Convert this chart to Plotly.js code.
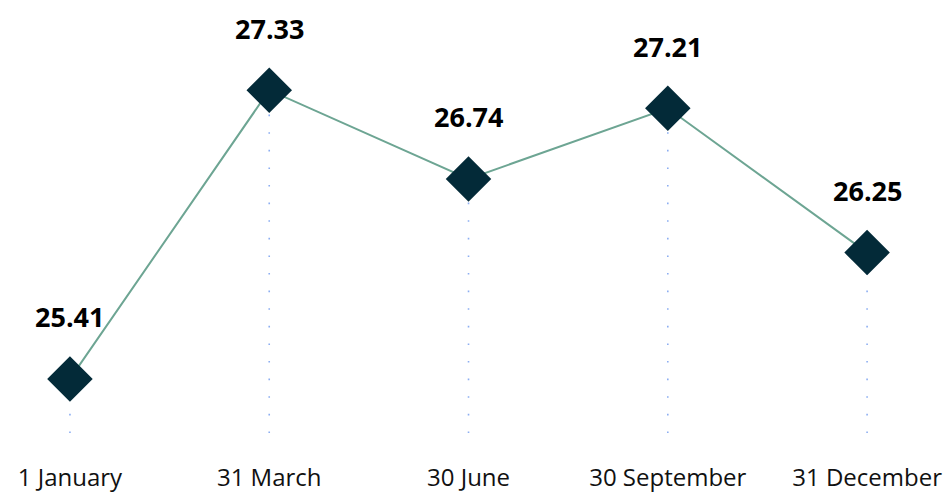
<!DOCTYPE html>
<html>
<head>
<meta charset="utf-8">
<script src="https://cdn.plot.ly/plotly-3.0.1.min.js"></script>
<style>html,body{margin:0;padding:0;background:#fff;}#chart{width:948px;height:493px;}</style>
</head>
<body>
<div id="chart"></div>
<script>
const categories = ["1 January", "31 March", "30 June", "30 September", "31 December"];
const values = [25.41, 27.33, 26.74, 27.21, 26.25];
const valueLabels = ["25.41", "27.33", "26.74", "27.21", "26.25"];
const yMin = 25.05, yMax = 27.93;

const traces = [];
categories.forEach((c, i) => {
  traces.push({
    x: [c, c], y: [yMin, values[i]], mode: 'lines', type: 'scatter',
    line: {color: '#8caef2', width: 1.6, dash: '1.6px,16px'},
    hoverinfo: 'skip', showlegend: false
  });
});
traces.push({
  x: categories, y: values, type: 'scatter', mode: 'lines+markers',
  line: {color: '#6da593', width: 2},
  marker: {symbol: 'diamond', size: 35, color: '#032a38'},
  showlegend: false
});

const annotations = categories.map((c, i) => ({
  x: c, y: values[i], text: '<b>' + valueLabels[i] + '</b>', showarrow: false,
  yshift: 62, font: {family: 'Open Sans, sans-serif', size: 27, color: '#000'}
}));

const layout = {
  width: 948, height: 493,
  margin: {l: 0, r: 0, t: 0, b: 60},
  paper_bgcolor: '#fff', plot_bgcolor: '#fff',
  xaxis: {
    type: 'category', categoryorder: 'array', categoryarray: categories,
    range: [-0.351, 4.406], showgrid: false, zeroline: false, showline: false,
    ticks: '', automargin: false, ticklabelstandoff: 28,
    tickfont: {family: 'Open Sans, sans-serif', size: 24, color: '#111'}
  },
  yaxis: {
    range: [yMin, yMax], showgrid: false, zeroline: false, showline: false,
    showticklabels: false, ticks: '', automargin: false
  },
  annotations: annotations
};

Plotly.newPlot('chart', traces, layout, {displayModeBar: false, staticPlot: true});
</script>
</body>
</html>
